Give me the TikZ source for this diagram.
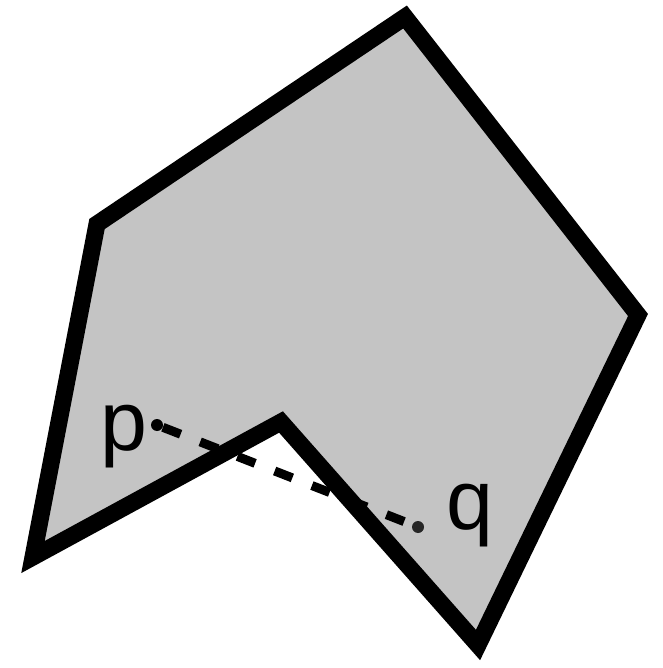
\documentclass[tikz,border=0pt]{standalone}
\usepackage{fontspec}
\setmainfont{Liberation Sans}
\usepackage{tikz}
\usetikzlibrary{positioning}
\definecolor{ShapeGray}{RGB}{196,196,196}

\begin{document}
\begin{tikzpicture}[x=0.02cm, y=-0.02cm]
		\useasboundingbox (0, 0) rectangle (662, 668);
		\coordinate (A) at (405, 17);
		\coordinate (B) at (97, 224);
		\coordinate (C) at (33, 557);
		\coordinate (D) at (281, 422);
		\coordinate (E) at (478, 645);
		\coordinate (F) at (638, 315);
		
		\draw[line width=0.34cm, fill=ShapeGray] (A) -- (B) -- (C) -- (D) -- (E) -- (F) -- cycle;
		
		\node[circle, fill=black, inner sep=0pt, minimum size=0.24cm] (p) at (157, 425) {};
		\node[circle, fill=black!85, inner sep=0pt, minimum size=0.24cm] (q) at (418, 527) {};
		\draw[line width=0.18cm, dash pattern=on 0.38cm off 0.42cm] (p) -- (q);
		
		\node[font=\fontsize{48}{50}\selectfont, inner sep=0pt, anchor=base] (plabel) at (124, 450) {p};
		\node[font=\fontsize{48}{50}\selectfont, inner sep=0pt, anchor=base] (qlabel) at (470, 529) {q};
	\end{tikzpicture}
\end{document}
